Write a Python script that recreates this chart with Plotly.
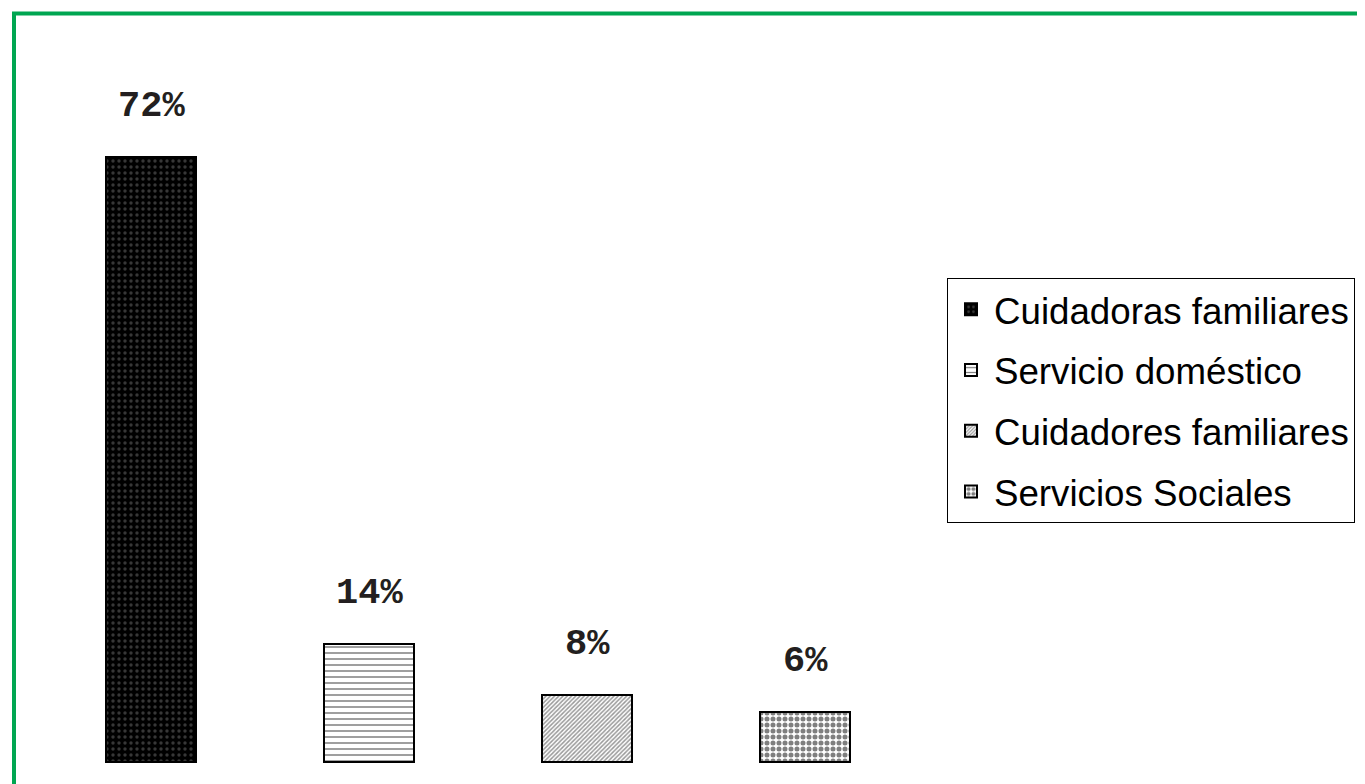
import plotly.graph_objects as go

categories = ["Cuidadoras familiares", "Servicio doméstico", "Cuidadores familiares", "Servicios Sociales"]
values = [72, 14, 8, 6]
labels = ["72%", "14%", "8%", "6%"]

patterns = [
    dict(shape=".", bgcolor="#000000", fgcolor="#6e6e6e", size=6, solidity=0.25),
    dict(shape="-", bgcolor="#ffffff", fgcolor="#000000", size=6, solidity=0.25),
    dict(shape="/", bgcolor="#ffffff", fgcolor="#333333", size=3, solidity=0.5),
    dict(shape=".", bgcolor="#ffffff", fgcolor="#000000", size=6, solidity=0.55),
]

OFF = 8  # page body margin
fig = go.Figure()
for i, (cat, v) in enumerate(zip(categories, values)):
    fig.add_trace(go.Bar(
        x=[i], y=[v], name=cat, width=0.41,
        marker=dict(color=patterns[i]["bgcolor"], pattern=patterns[i],
                    line=dict(color="#000000", width=2)),
        legendgroup=f"g{i}", hoverinfo="skip",
    ))

for i, (v, t) in enumerate(zip(values, labels)):
    fig.add_annotation(x=i, y=v, text=f"<b>{t}</b>", showarrow=False, yshift=51,
                       font=dict(family="Liberation Mono", size=37, color="#231F20"))

W, H = 1365, 784
fig.add_shape(type="rect", xref="paper", yref="paper",
              x0=(14 - OFF) / W, x1=1.05, y0=-0.05, y1=1 - (13.5 - OFF) / H,
              line=dict(color="#00A651", width=4), layer="above")

x0px = 151 - OFF
base = 762 - OFF
fig.update_layout(
    width=W, height=H,
    margin=dict(l=0, r=0, t=0, b=0),
    paper_bgcolor="white", plot_bgcolor="white",
    xaxis=dict(range=[-x0px / 218, (W - x0px) / 218], visible=False),
    yaxis=dict(range=[-(H - base) / 8.4, base / 8.4], visible=False),
    showlegend=True,
    legend=dict(x=(947 - OFF) / W, y=1 - (278 - OFF) / H, xanchor="left", yanchor="top",
                bordercolor="#000000", borderwidth=1, bgcolor="white",
                font=dict(family="Liberation Sans", size=36.7, color="#000000"),
                tracegroupgap=10, itemwidth=36),
    bargap=0,
)

fig.write_html("out.html")
